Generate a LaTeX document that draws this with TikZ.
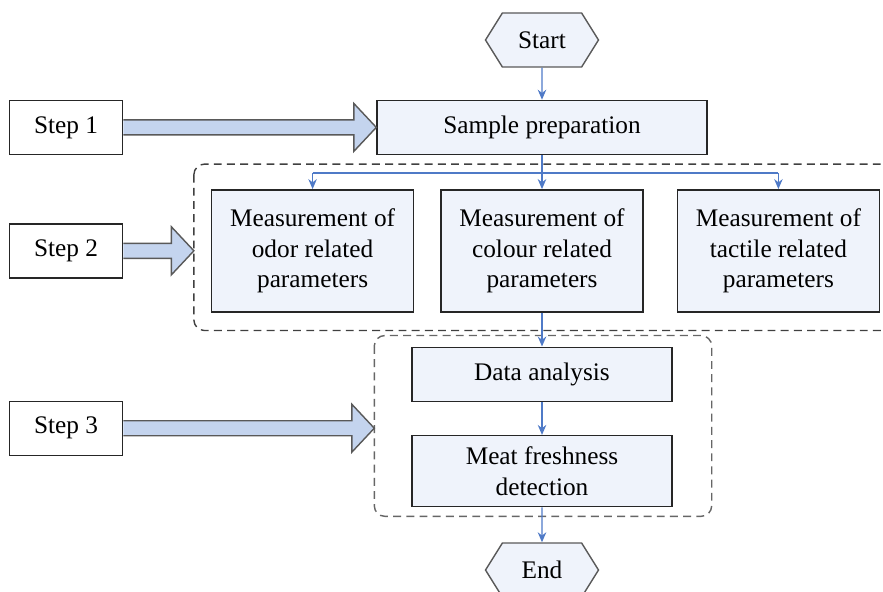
\documentclass[tikz,border=0pt]{standalone}
\usepackage{fontspec}
\setmainfont{Liberation Serif}
\usepackage{xcolor}
\usepackage{tikz}
\usetikzlibrary{shapes.symbols, arrows.meta, positioning, calc}

\definecolor{linkblue}{RGB}{79,122,199}
\definecolor{boxfill}{RGB}{239,243,251}
\definecolor{arrowfill}{RGB}{196,212,238}

\begin{document}
\begin{tikzpicture}[
    font=\fontsize{14.4}{17.6}\selectfont,
    proc/.style={rectangle, draw=black!85, line width=0.8pt, fill=boxfill, minimum height=1.08cm, align=center},
    meas/.style={proc, minimum width=4.04cm, minimum height=2.44cm},
    stepbox/.style={rectangle, draw=black!85, line width=0.8pt, fill=white, minimum width=2.26cm, minimum height=1.08cm},
    term/.style={signal, signal to=west and east, signal pointer angle=116, draw=black!65, line width=0.8pt, fill=boxfill, minimum width=2.26cm, minimum height=1.08cm},
    group/.style={draw=black!75, line width=0.8pt, dash pattern=on 4.5pt off 3pt, rounded corners=6pt},
    flow/.style={-{Stealth[length=2mm, width=1.7mm]}, draw=linkblue, line width=0.8pt},
    bigarrow/.style={draw=black!65, line width=0.8pt, fill=arrowfill, line join=miter}
]
\clip (0,0) rectangle (17.66,-11.84);

\node[term] (start) at (10.84,-0.8) {Start};
\node[proc, minimum width=6.6cm, below=0.64cm of start] (prep) {Sample preparation};
\node[meas, below=0.68cm of prep] (colour) {Measurement of\\colour related\\parameters};
\node[meas, left=0.52cm of colour] (odor) {Measurement of\\odor related\\parameters};
\node[meas, right=0.66cm of colour] (tactile) {Measurement of\\tactile related\\parameters};
\node[proc, minimum width=5.2cm, below=0.68cm of colour] (data) {Data analysis};
\node[proc, minimum width=5.2cm, minimum height=1.42cm, below=0.66cm of data] (fresh) {Meat freshness\\detection};
\node[term, below=0.7cm of fresh] (end) {End};

\node[stepbox, left=5.06cm of prep] (s1) {Step 1};
\node[stepbox, below=1.36cm of s1] (s2) {Step 2};
\node[stepbox, below=2.44cm of s2] (s3) {Step 3};

% dashed groups
\draw[group] ($(odor.north west)+(-0.34,0.5)$) coordinate (g1) rectangle ($(tactile.south east)+(0.34,-0.36)$);
\draw[group, draw=black!60] ($(data.north west)+(-0.74,0.22)$) coordinate (g2) rectangle ($(fresh.south east)+(0.78,-0.18)$);

% flow
\draw[flow] (start) -- (prep);
\draw[linkblue, line width=0.8pt] (prep.south) -- ++(0,-0.36) coordinate (br);
\draw[linkblue, line width=0.8pt] (br -| odor.north) -- (br -| tactile.north);
\foreach \n in {odor,colour,tactile}
    \draw[flow] (br -| \n.north) -- (\n.north);
\draw[flow] (colour) -- (data);
\draw[flow] (data) -- (fresh);
\draw[flow] (fresh) -- (end);

% step arrows
\coordinate (t1) at (prep.west);
\coordinate (t2) at (s2.east -| g1);
\coordinate (t3) at (s3.east -| g2);
\foreach \s/\t in {s1/t1, s2/t2, s3/t3}
    \draw[bigarrow] ($(\s.east)+(0,0.15)$) -- ($(\t)+(-0.45,0.15)$) -- ($(\t)+(-0.45,0.48)$)
        -- (\t) -- ($(\t)+(-0.45,-0.48)$) -- ($(\t)+(-0.45,-0.15)$) -- ($(\s.east)+(0,-0.15)$);
\end{tikzpicture}
\end{document}
